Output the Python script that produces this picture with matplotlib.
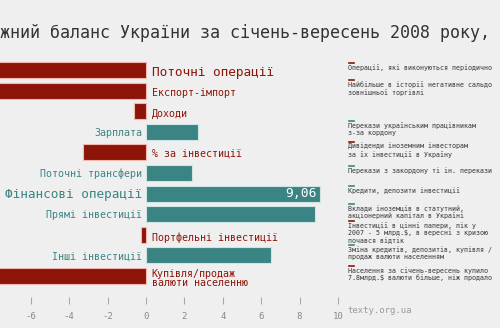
import matplotlib
matplotlib.use('Agg')
import matplotlib.pyplot as plt

# млрд.$, січень-вересень 2008
labels = ['Поточні операції', 'Експорт-імпорт', 'Доходи', 'Зарплата',
          '% за інвестиції', 'Поточні трансфери', 'Фінансові операції',
          'Прямі інвестиції', 'Портфельні інвестиції', 'Інші інвестиції',
          'Купівля/продаж\nвалюти населенню']
values = [-8.6, -11.6, -0.6, 2.7, -3.3, 2.4, 9.06, 8.8, -0.25, 6.5, -7.8]
major = [True, False, False, False, False, False, True, False, False, False, False]
notes = ['Операції, які виконуються періодично',
         'Найбільше в історії негативне сальдо\nзовнішньої торгівлі',
         '',
         'Перекази українським працівникам\nз-за кордону',
         'Дивіденди іноземним інвесторам\nза їх інвестиції в Україну',
         'Перекази з закордону ті ін. перекази',
         'Кредити, депозити інвестиції',
         'Вклади іноземців в статутний,\nакціонерний капітал в Україні',
         'Інвестиції в цінні папери, пік у\n2007 - 5 млрд.$, в вересні з кризою\nпочався відтік',
         'Зміна кредитів, депозитів, купівля /\nпродаж валюти населенням',
         'Населення за січень-вересень купило\n7.8млрд.$ валюти більше, ніж продало']
xticks = [-6, -4, -2, 0, 2, 4, 6, 8, 10]

RED = '#8c1409'
TEAL = '#3b8484'
BG = '#efefef'
plt.rcParams['axes.unicode_minus'] = False
plt.rcParams['font.family'] = 'DejaVu Sans Mono'

fig = plt.figure(figsize=(5, 3.28), dpi=100, facecolor=BG)
ax = fig.add_axes([0, 0.0732, 1, 0.7448])
ax.set_facecolor(BG)

ypos = list(range(len(values)))
colors = [RED if v < 0 else TEAL for v in values]
edges = ['#f2b8b0' if v < 0 else '#cfe5e5' for v in values]
ax.barh(ypos, values, height=0.78, color=colors, edgecolor=edges, linewidth=0.8)

for y, lab, v, big in zip(ypos, labels, values, major):
    size = 9.2 if big else 7.2
    if v < 0:
        ax.text(0.3, y + 0.12, lab, ha='left', va='center', color=RED,
                fontsize=size, linespacing=0.95)
    else:
        ax.text(-0.2, y + 0.05, lab, ha='right', va='center', color=TEAL,
                fontsize=size)

ax.text(9.06 - 0.15, 6, '9,06', ha='right', va='center', color='white',
        fontsize=9.4)

ax.set_xlim(-7.6, 18.44)
ax.set_ylim(11.36, -0.5)
ax.set_xticks(xticks)
ax.set_yticks([])
ax.tick_params(axis='x', direction='in', length=5, width=0.8, color='#aaaaaa',
               labelcolor='#888888', labelsize=6.5, pad=6)
for s in ax.spines.values():
    s.set_visible(False)

# пояснення праворуч
for y, note, v in zip(ypos, notes, values):
    if not note:
        continue
    n_lines = note.count('\n') + 1
    top = y - {1: 0.3, 2: 0.45, 3: 0.62}[n_lines]
    c = RED if v < 0 else TEAL
    ax.text(10.5, top, note, ha='left', va='top', fontsize=4.8,
            color='#333333', linespacing=1.1)
    ax.plot([10.55, 10.85], [top - 0.05, top - 0.05], color=c, lw=1.2)

fig.text(0.0, 0.90, 'жний баланс України за січень-вересень 2008 року,',
         ha='left', va='center', fontsize=12, color='#333333')
fig.text(0.694, 0.052, 'texty.org.ua', ha='left', va='center',
         fontsize=6.5, color='#999999')

fig.savefig('out.png', dpi=100, facecolor=BG)
